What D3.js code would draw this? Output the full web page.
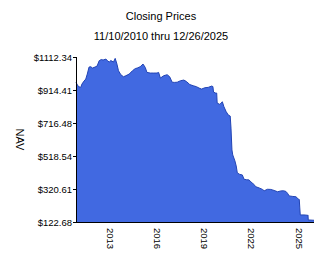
<!DOCTYPE html>
<html><head><meta charset="utf-8">
<script src="https://cdn.jsdelivr.net/npm/d3@7"></script>
<style>
html,body{margin:0;padding:0;background:#fff;}
svg{display:block;}
text{font-family:"Liberation Sans",Arial,sans-serif;fill:#000;}
</style></head>
<body>
<svg id="c" width="324" height="267"></svg>
<script>
const titleText = "Closing Prices";
const subtitleText = "11/10/2010 thru 12/26/2025";
const yAxisTitle = "NAV";
const yTickValues = [122.68, 320.61, 518.54, 716.48, 914.41, 1112.34];
const xTickYears = [2013, 2016, 2019, 2022, 2025];
const dates = ["2010-11-10","2010-12-01","2011-01-08","2011-02-28","2011-03-28","2011-05-15","2011-06-25","2011-07-30","2011-09-09","2011-10-20","2011-11-28","2012-01-26","2012-03-14","2012-05-01","2012-06-18","2012-07-31","2012-10-04","2012-11-10","2012-12-20","2013-01-26","2013-03-29","2013-05-08","2013-06-17","2013-07-23","2013-09-16","2013-11-17","2014-01-11","2014-03-29","2014-06-13","2014-08-18","2014-10-01","2014-12-09","2015-02-13","2015-04-05","2015-05-15","2015-07-31","2015-10-08","2016-01-04","2016-02-10","2016-03-22","2016-06-07","2016-08-26","2016-10-23","2016-12-20","2017-02-09","2017-04-16","2017-07-02","2017-09-17","2017-11-18","2018-02-03","2018-04-23","2018-07-09","2018-09-06","2018-11-03","2019-01-19","2019-04-05","2019-06-25","2019-07-24","2019-08-08","2019-09-25","2019-10-20","2019-10-31","2020-01-01","2020-02-28","2020-04-05","2020-05-26","2020-07-16","2020-08-29","2020-09-16","2020-10-08","2020-10-27","2020-12-16","2021-01-15","2021-02-10","2021-04-09","2021-06-06","2021-07-16","2021-09-16","2021-11-10","2021-12-20","2022-01-26","2022-03-11","2022-04-16","2022-07-02","2022-09-17","2022-10-27","2023-01-11","2023-03-29","2023-06-13","2023-09-02","2023-11-17","2024-01-19","2024-03-14","2024-04-20","2024-05-30","2024-08-22","2024-11-03","2024-12-24","2025-01-18","2025-01-30","2025-02-10","2025-05-08","2025-07-31","2025-08-08","2025-08-15","2025-12-26"];
const navValues = [962,950,935,930,950,968,980,1010,1052,1054,1046,1052,1058,1090,1097,1094,1100,1090,1082,1091,1082,1104,1070,1030,1006,994,1000,1010,1030,1043,1046,1054,1070,1050,1020,1016,1016,1016,1020,986,1000,1006,994,961,960,961,970,974,965,947,940,934,926,920,928,930,938,935,902,896,896,836,828,844,814,785,764,758,686,555,525,489,459,417,408,405,379,376,375,363,357,345,334,327,318,310,319,318,312,304,309,310,306,295,279,276,274,261,258,207,165,165,163,165,135,133];

const parse = d3.timeParse("%Y-%m-%d");
const data = dates.map((d,i)=>({date: parse(d), v: navValues[i]}));

const svg = d3.select("#c");
const L = 76, R = 314, T = 57, B = 222;
const x = d3.scaleTime().domain([parse("2010-11-10"), parse("2025-12-26")]).range([L, R]);
const y = d3.scaleLinear().domain([yTickValues[0], yTickValues[yTickValues.length-1]]).range([B, T]);

const area = d3.area().x(d=>x(d.date)).y0(B).y1(d=>y(d.v));
const line = d3.line().x(d=>x(d.date)).y(d=>y(d.v));

svg.append("path").datum(data).attr("d", area).attr("fill", "#4169e1");
svg.append("path").datum(data).attr("d", line).attr("fill", "none")
  .attr("stroke", "#2244b4").attr("stroke-width", 1);

// Y axis
const yAxis = d3.axisLeft(y).tickValues(yTickValues).tickSize(3).tickPadding(1)
  .tickFormat(d=>"$" + d.toFixed(2));
const gy = svg.append("g").attr("transform", `translate(${L},0)`).call(yAxis);
gy.select(".domain").remove();
gy.selectAll("text").attr("font-size", "9.5px").attr("font-family", '"Liberation Sans",Arial,sans-serif');
svg.append("line").attr("x1", L+0.5).attr("x2", L+0.5).attr("y1", T).attr("y2", B+0.5)
  .attr("stroke", "#000").attr("stroke-width", 1);

// X axis
const xAxis = d3.axisBottom(x).tickValues(xTickYears.map(yr=>new Date(yr,0,1)))
  .tickSize(0).tickPadding(0).tickFormat(d3.timeFormat("%Y"));
const gx = svg.append("g").attr("transform", `translate(0,${B})`).call(xAxis);
gx.select(".domain").remove();
gx.selectAll("text").attr("font-size", "9.5px").attr("font-family", '"Liberation Sans",Arial,sans-serif')
  .attr("transform", "rotate(90)").attr("text-anchor", "start")
  .attr("x", 6).attr("y", 0).attr("dy", "0.35em");
svg.append("line").attr("x1", L).attr("x2", R).attr("y1", B+0.5).attr("y2", B+0.5)
  .attr("stroke", "#000").attr("stroke-width", 1);

// Titles
svg.append("text").attr("x", 161).attr("y", 19.5).attr("text-anchor", "middle")
  .attr("font-size", "11px").text(titleText);
svg.append("text").attr("x", 161).attr("y", 39.5).attr("text-anchor", "middle")
  .attr("font-size", "11px").text(subtitleText);
svg.append("text").attr("transform", `translate(16,${(T+B)/2}) rotate(90)`)
  .attr("text-anchor", "middle").attr("font-size", "11px").text(yAxisTitle);
</script>
</body></html>
